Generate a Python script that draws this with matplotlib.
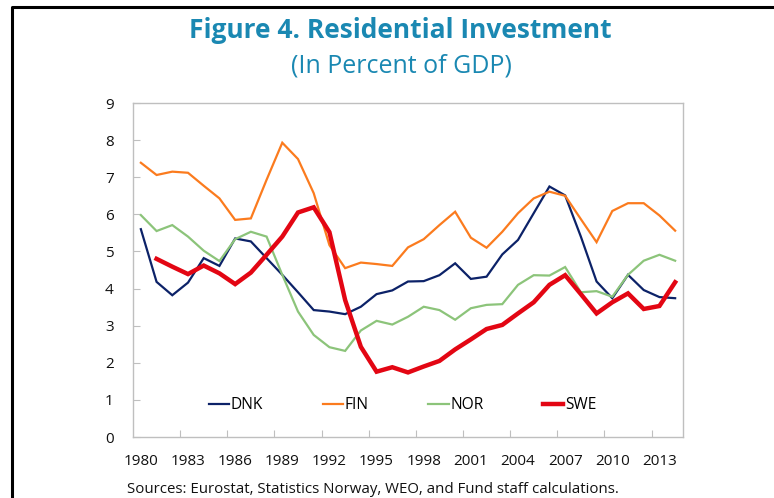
import matplotlib.pyplot as plt
import numpy as np

years = list(range(1980, 2015))

dnk = [5.60, 4.18, 3.82, 4.16, 4.82, 4.61, 5.35, 5.27, 4.82, 4.37,
       3.90, 3.42, 3.38, 3.31, 3.51, 3.85, 3.95, 4.19, 4.20, 4.36,
       4.68, 4.26, 4.32, 4.92, 5.31, 6.03, 6.75, 6.51, 5.40, 4.19,
       3.74, 4.37, 3.96, 3.77, 3.74]
fin = [7.39, 7.06, 7.15, 7.12, 6.77, 6.43, 5.85, 5.89, 6.93, 7.93,
       7.49, 6.57, 5.17, 4.55, 4.70, 4.66, 4.61, 5.11, 5.33, 5.71,
       6.07, 5.37, 5.10, 5.53, 6.03, 6.43, 6.61, 6.50, 5.87, 5.25,
       6.09, 6.30, 6.30, 5.97, 5.56]
nor = [5.98, 5.55, 5.71, 5.40, 5.02, 4.74, 5.33, 5.53, 5.40, 4.37,
       3.38, 2.75, 2.42, 2.32, 2.87, 3.13, 3.03, 3.24, 3.51, 3.42,
       3.16, 3.47, 3.56, 3.58, 4.10, 4.36, 4.35, 4.58, 3.90, 3.93,
       3.78, 4.37, 4.75, 4.91, 4.75]
swe = [np.nan, 4.80, 4.59, 4.39, 4.62, 4.41, 4.12, 4.43, 4.91, 5.40,
       6.05, 6.19, 5.52, 3.69, 2.43, 1.76, 1.88, 1.74, 1.90, 2.05,
       2.36, 2.63, 2.91, 3.02, 3.33, 3.63, 4.10, 4.36, 3.85, 3.33,
       3.63, 3.87, 3.45, 3.53, 4.17]

series = [("DNK", dnk, "#0c2268", 1.6),
          ("FIN", fin, "#fb7b1e", 1.6),
          ("NOR", nor, "#8cc47a", 1.6),
          ("SWE", swe, "#e30613", 3.2)]

title_color = "#1a88b2"
grey = "#bfbfbf"
plt.rcParams['font.family'] = ['Open Sans', 'DejaVu Sans']

fig = plt.figure(figsize=(7.74, 4.98), dpi=100)
ax = fig.add_axes([133 / 774, 1 - 437 / 498, 550 / 774, 334 / 498])

for name, vals, col, lw in series:
    ax.plot(years, vals, color=col, lw=lw, label=name, solid_joinstyle='miter')

ax.set_xlim(1979.5, 2014.5)
ax.set_ylim(0, 9)
ax.set_yticks(range(0, 10))

# ticks between categories, labels on every third year
ax.set_xticks([y + 0.5 for y in years[2:-2:3]])
ax.set_xticklabels([])
ax.set_xticks(years[::3], minor=True)
ax.set_xticklabels([str(y) for y in years[::3]], minor=True)
ax.tick_params(axis='x', which='major', direction='in', length=5, color=grey)
ax.tick_params(axis='x', which='minor', length=0, pad=12, labelsize=11, labelcolor='#111111')
ax.tick_params(axis='y', direction='in', length=5, color=grey, pad=14,
               labelsize=11, labelcolor='#111111')
for s in ax.spines.values():
    s.set_color(grey)
    s.set_linewidth(1.0)

ax.legend(loc='lower center', bbox_to_anchor=(0.49, 0.03), ncol=4, frameon=False,
          handlelength=1.3, handletextpad=0.1, columnspacing=3.85, fontsize=11.2)

fig.text(400 / 774, 1 - 30 / 498, "Figure 4. Residential Investment", ha='center', va='center',
         fontsize=19, fontweight='bold', color=title_color)
fig.text(401 / 774, 1 - 66 / 498, "(In Percent of GDP)", ha='center', va='center',
         fontsize=18, color=title_color)
fig.text(127 / 774, 1 - 489 / 498, "Sources: Eurostat, Statistics Norway, WEO, and Fund staff calculations.",
         ha='left', va='center', fontsize=10.8, color='#111111')

# outer frame (top and left edges)
fig.add_artist(plt.Line2D([12 / 774, 12 / 774, 1.0], [0.0, 1 - 7 / 498, 1 - 7 / 498],
                          transform=fig.transFigure, color='black', lw=2.2))

fig.savefig("out.png", dpi=100)
